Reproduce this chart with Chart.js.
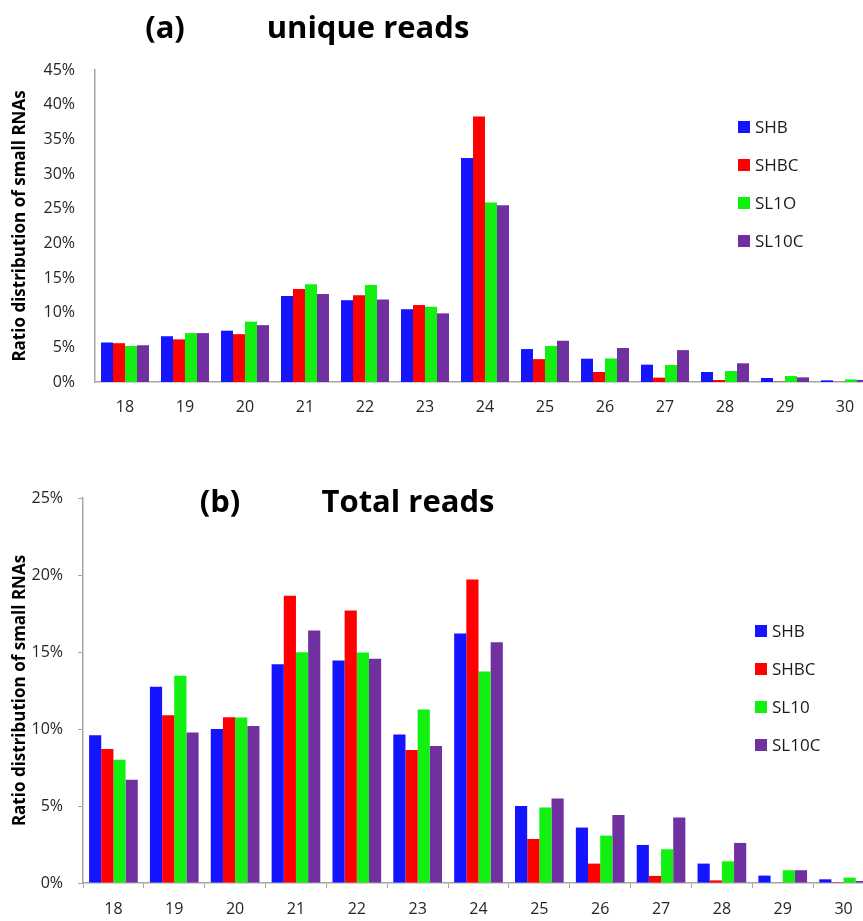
<!DOCTYPE html>
<html>
<head>
<meta charset="utf-8">
<script src="https://cdn.jsdelivr.net/npm/chart.js@4/dist/chart.umd.min.js"></script>
<style>
  html, body { margin: 0; padding: 0; background: #fff; overflow: hidden; }
  #wrap { position: relative; width: 863px; height: 921px; overflow: hidden; background: #fff; }
  canvas { position: absolute; left: 0; }
  .t { position: absolute; font-family: "Open Sans", sans-serif; font-weight: bold; font-size: 31px; color: #000; white-space: nowrap; transform: translate(-50%, -50%); line-height: 1; }
  .leg { position: absolute; font-family: "Open Sans", sans-serif; font-size: 17px; color: #1a1a1a; white-space: nowrap; }
  .leg div { position: absolute; left: 0; height: 20px; line-height: 20px; }
  .leg span.sw { display: inline-block; width: 12px; height: 12px; vertical-align: middle; margin-right: 5px; position: relative; top: -1px; }
</style>
</head>
<body>
<div id="wrap">
  <canvas id="c1" width="880" height="430" style="top:0"></canvas>
  <canvas id="c2" width="880" height="491" style="top:430px"></canvas>
  <div class="t" style="left:165px; top:26px">(a)</div>
  <div class="t" style="left:368px; top:26px">unique reads</div>
  <div class="t" style="left:220px; top:500px">(b)</div>
  <div class="t" style="left:408px; top:500px">Total reads</div>
  <div class="leg" id="leg1" style="left:738px; top:0px"></div>
  <div class="leg" id="leg2" style="left:755px; top:0px"></div>
</div>
<script>
const categories = ['18','19','20','21','22','23','24','25','26','27','28','29','30'];

// (a) unique reads, percent
const uniqSHB  = [5.7, 6.6, 7.4, 12.4, 11.8, 10.5, 32.3, 4.75, 3.36, 2.5, 1.44, 0.58, 0.24];
const uniqSHBC = [5.6, 6.15, 6.9, 13.4, 12.5, 11.1, 38.3, 3.3, 1.44, 0.63, 0.29, 0.05, 0.02];
const uniqSL1O = [5.2, 7.05, 8.7, 14.1, 14.0, 10.85, 25.9, 5.2, 3.4, 2.45, 1.58, 0.86, 0.38];
const uniqSL10C = [5.3, 7.05, 8.2, 12.7, 11.9, 9.9, 25.5, 5.95, 4.9, 4.6, 2.7, 0.67, 0.3];

// (b) total reads, percent
const totalSHB  = [9.6, 12.75, 10.0, 14.2, 14.45, 9.65, 16.2, 5.0, 3.6, 2.47, 1.26, 0.48, 0.24];
const totalSHBC = [8.7, 10.9, 10.77, 18.66, 17.7, 8.63, 19.7, 2.86, 1.26, 0.46, 0.17, 0.03, 0.01];
const totalSL10 = [8.0, 13.46, 10.75, 14.98, 14.96, 11.27, 13.74, 4.9, 3.08, 2.19, 1.41, 0.83, 0.35];
const totalSL10C = [6.7, 9.78, 10.2, 16.4, 14.56, 8.9, 15.63, 5.49, 4.42, 4.25, 2.6, 0.83, 0.13];

const legendA = ['SHB', 'SHBC', 'SL1O', 'SL10C'];
const legendB = ['SHB', 'SHBC', 'SL10', 'SL10C'];
const colors = ['#1414FF', '#FF0000', '#11F011', '#7030A0'];

const axisColor = '#a6a6a6';
const tickFont = { family: 'Open Sans', size: 16 };
const titleFont = { family: 'Open Sans', size: 17, weight: 'bold' };

function makeDatasets(labels, series) {
  return series.map((d, i) => ({
    label: labels[i], data: d, backgroundColor: colors[i], borderWidth: 0,
    categoryPercentage: 0.8, barPercentage: 1.0
  }));
}

function makeChart(id, labels, series, opt) {
  return new Chart(document.getElementById(id), {
    type: 'bar',
    data: { labels: categories, datasets: makeDatasets(labels, series) },
    options: {
      responsive: false, animation: false, devicePixelRatio: 1,
      layout: { padding: { top: opt.top, right: opt.right, left: 0, bottom: 0 } },
      plugins: { legend: { display: false }, tooltip: { enabled: false } },
      scales: {
        x: {
          offset: true,
          grid: { display: opt.xticks, drawOnChartArea: false, drawTicks: opt.xticks, tickLength: 5, color: axisColor, offset: true },
          border: { display: true, color: axisColor, width: 1.5 },
          ticks: { font: tickFont, color: '#262626', padding: opt.xpad, maxRotation: 0, autoSkip: false },
          afterFit: s => { s.height = opt.xh; }
        },
        y: {
          min: 0, max: opt.max,
          grid: { display: opt.yticks, drawOnChartArea: false, drawTicks: opt.yticks, tickLength: 5, color: axisColor },
          border: { display: true, color: axisColor, width: 1.5 },
          ticks: { stepSize: 5, font: tickFont, color: '#262626', padding: opt.ypad, callback: v => v + '%' },
          title: { display: true, text: 'Ratio distribution of small RNAs', font: titleFont, color: '#000', padding: { top: 10, bottom: 0 } },
          afterFit: s => { s.width = opt.yw; }
        }
      }
    }
  });
}

makeChart('c1', legendA, [uniqSHB, uniqSHBC, uniqSL1O, uniqSL10C],
  { top: 70, right: 5, xh: 48, yw: 95, max: 45, xticks: false, yticks: false, xpad: 16, ypad: 20 });
makeChart('c2', legendB, [totalSHB, totalSHBC, totalSL10, totalSL10C],
  { top: 68, right: 6, xh: 38, yw: 83, max: 25, xticks: true, yticks: true, xpad: 12, ypad: 15 });

function buildLegend(el, labels, top0, gap) {
  labels.forEach((l, i) => {
    const d = document.createElement('div');
    d.style.top = (top0 + i * gap - 10) + 'px';
    d.innerHTML = '<span class="sw" style="background:' + colors[i] + '"></span>' + l;
    el.appendChild(d);
  });
}
buildLegend(document.getElementById('leg1'), legendA, 127, 38);
buildLegend(document.getElementById('leg2'), legendB, 631, 38);
</script>
</body>
</html>
